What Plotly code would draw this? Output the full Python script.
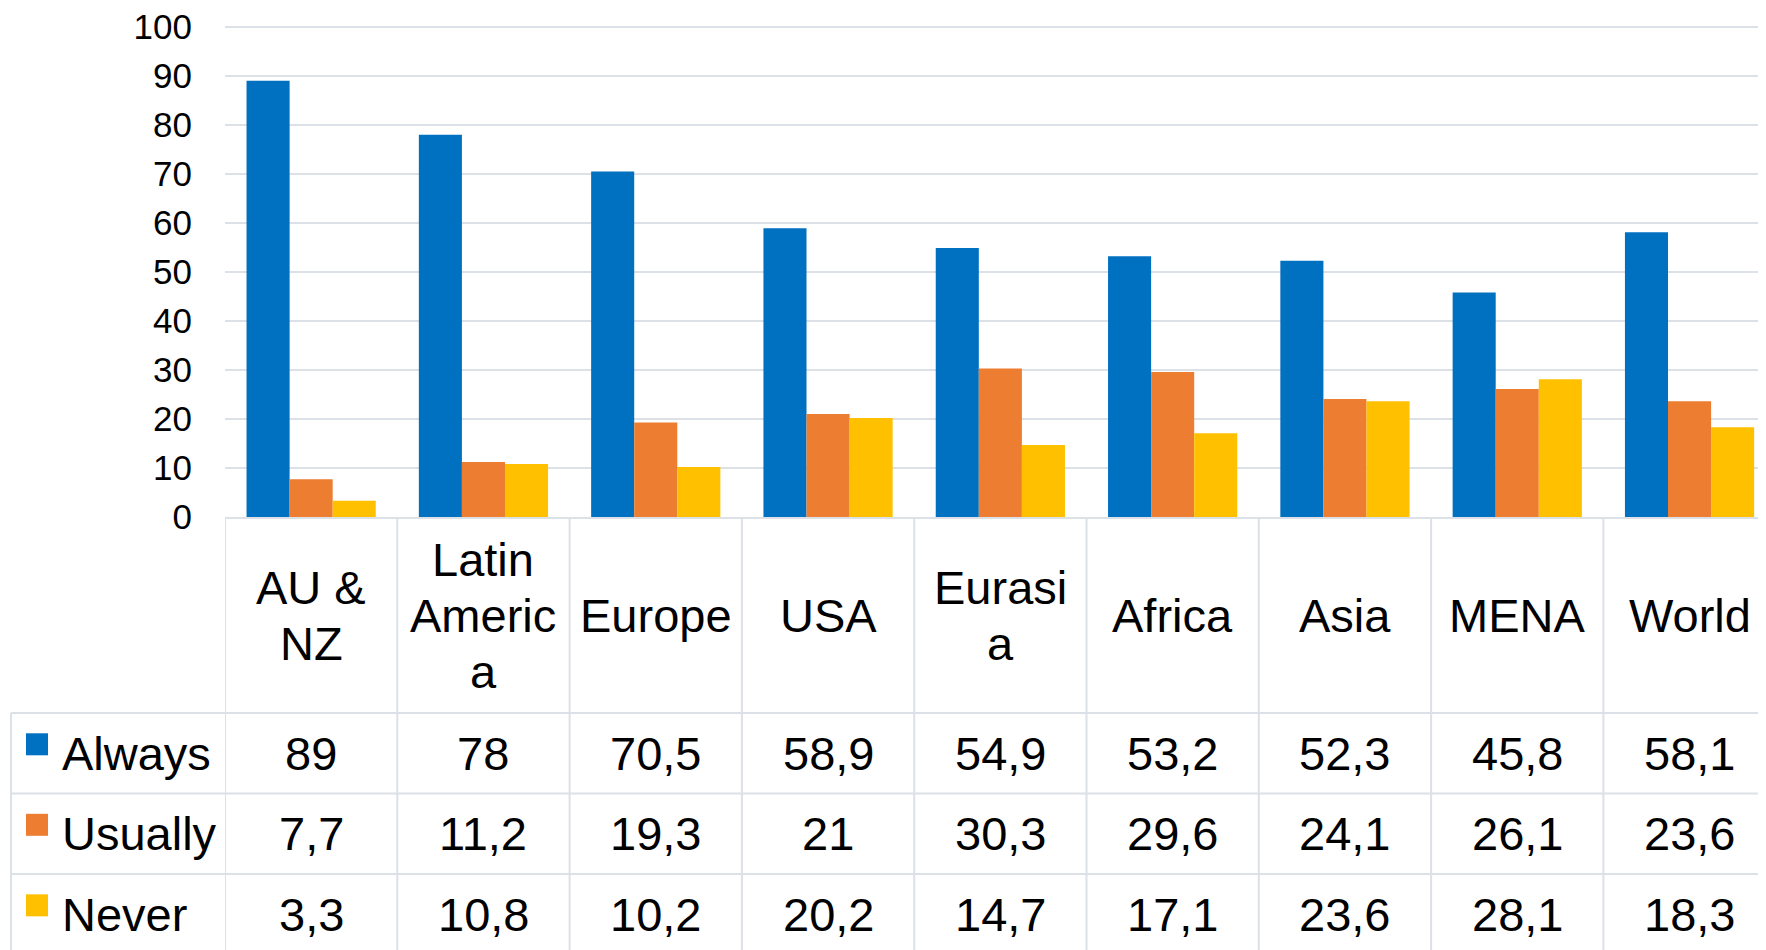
import plotly.graph_objects as go

categories = ["AU & NZ", "Latin America", "Europe", "USA", "Eurasia", "Africa", "Asia", "MENA", "World"]
header_labels = ["AU &<br>NZ", "Latin<br>Americ<br>a", "Europe", "USA", "Eurasi<br>a", "Africa", "Asia", "MENA", "World"]
series_names = ["Always", "Usually", "Never"]
always = [89, 78, 70.5, 58.9, 54.9, 53.2, 52.3, 45.8, 58.1]
usually = [7.7, 11.2, 19.3, 21, 30.3, 29.6, 24.1, 26.1, 23.6]
never = [3.3, 10.8, 10.2, 20.2, 14.7, 17.1, 23.6, 28.1, 18.3]
y_ticks = [0, 10, 20, 30, 40, 50, 60, 70, 80, 90, 100]

colors = ["#0070C0", "#ED7D31", "#FFC000"]
series_values = [always, usually, never]

W, H = 1766, 950
SH = 8  # shift
L = 225 - SH
Y100 = 27 - SH
B = 517 - SH
UNIT = (B - Y100) / 100.0
YMAX = 101
T = B - YMAX * UNIT
PW, PH = W - L, B - T
CW = 172.3
FONT = "Liberation Sans, Arial, sans-serif"
LINE = "#DCE0E7"
FS = 47

def px(xp):
    return (xp - L) / PW

def py(yp):
    return (B - yp) / PH

def fmt(v):
    if float(v) == int(v):
        return str(int(v))
    return ("%g" % v).replace(".", ",")

xs = list(range(len(categories)))
fig = go.Figure()
for name, vals, col in zip(series_names, series_values, colors):
    fig.add_trace(go.Bar(x=xs, y=vals, name=name, marker=dict(color=col, line=dict(width=0)),
                         showlegend=False))

shapes = []
annotations = []
header_bottom = 713 - SH
row_h = 80.5
row_tops = [header_bottom + i * row_h for i in range(3)]
table_bottom = header_bottom + 3 * row_h
TL = 11 - SH

for i in range(len(categories) + 1):
    shapes.append(dict(type="line", xref="x", yref="paper", x0=i - 0.5, x1=i - 0.5,
                       y0=py(B), y1=py(table_bottom), line=dict(color=LINE, width=2), layer="below"))
shapes.append(dict(type="line", xref="paper", yref="paper", x0=px(TL), x1=px(TL),
                   y0=py(header_bottom), y1=py(table_bottom), line=dict(color=LINE, width=2)))
for yp in row_tops + [table_bottom]:
    shapes.append(dict(type="line", xref="paper", yref="paper", x0=px(TL), x1=1.0,
                       y0=py(yp), y1=py(yp), line=dict(color=LINE, width=2)))

hc = (B + header_bottom) / 2
pitch = 56
for i, lab in enumerate(header_labels):
    lines = lab.split("<br>")
    n = len(lines)
    for k, ln in enumerate(lines):
        yc = hc + (k - (n - 1) / 2) * pitch
        annotations.append(dict(xref="x", yref="paper", x=i, y=py(yc), text=ln, showarrow=False,
                                xanchor="center", yanchor="middle",
                                font=dict(family=FONT, size=FS, color="#000000")))

for r, (name, vals, col) in enumerate(zip(series_names, series_values, colors)):
    yc = row_tops[r] + row_h / 2
    shapes.append(dict(type="rect", xref="paper", yref="paper", x0=px(26 - SH), x1=px(48 - SH),
                       y0=py(yc - 20), y1=py(yc + 2), fillcolor=col, line=dict(width=0)))
    annotations.append(dict(xref="paper", yref="paper", x=px(60 - SH), y=py(yc), text=name,
                            showarrow=False, xanchor="left", yanchor="middle",
                            font=dict(family=FONT, size=FS, color="#000000")))
    for i, v in enumerate(vals):
        annotations.append(dict(xref="x", yref="paper", x=i, y=py(yc), text=fmt(v),
                                showarrow=False, xanchor="center", yanchor="middle",
                                font=dict(family=FONT, size=FS, color="#000000")))

fig.update_layout(
    width=W, height=H,
    margin=dict(l=L, r=0, t=T, b=H - B, pad=0),
    paper_bgcolor="white", plot_bgcolor="white",
    barmode="group", bargap=0.25, bargroupgap=0,
    shapes=shapes, annotations=annotations,
    font=dict(family=FONT, color="#000000"),
    xaxis=dict(range=[-0.5, -0.5 + PW / CW], showticklabels=False, showgrid=False,
               showline=True, linecolor=LINE, linewidth=2, ticks="", zeroline=False,
               fixedrange=True),
    yaxis=dict(range=[0, YMAX], tickvals=y_ticks, ticktext=[str(t) for t in y_ticks],
               showgrid=True, gridcolor=LINE, gridwidth=2, zeroline=False, showline=False,
               ticks="", ticklabelstandoff=32, ticklabeloverflow="allow",
               tickfont=dict(family=FONT, size=35, color="#000000"),
               fixedrange=True),
)

fig.write_html("out.html")
